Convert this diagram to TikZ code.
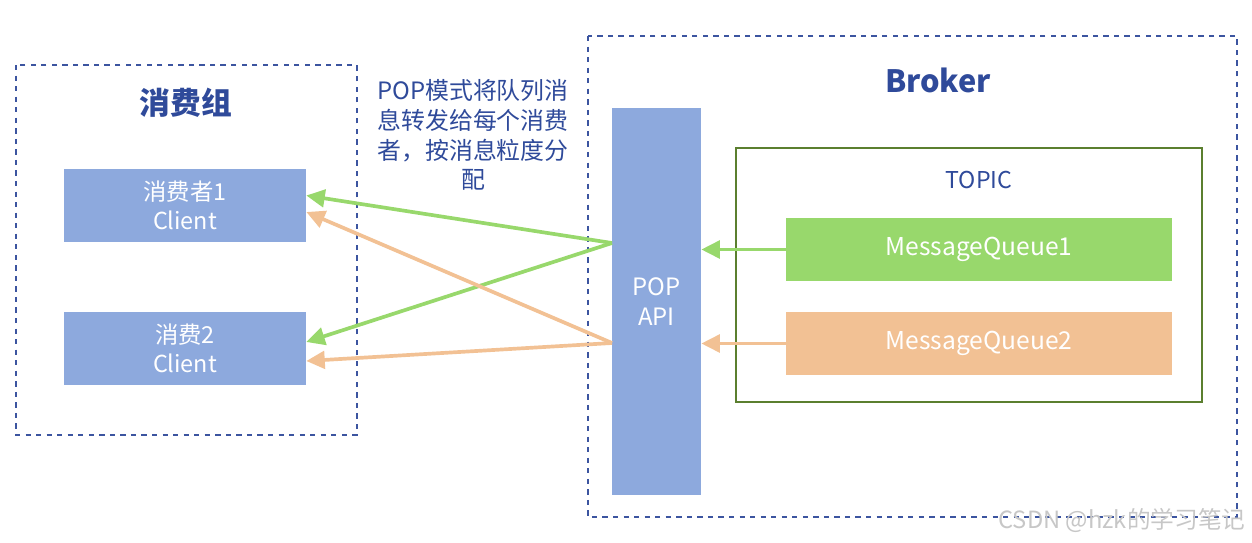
\documentclass[tikz,border=0pt]{standalone}
\usepackage{fontspec}
\setmainfont{Noto Sans CJK SC}
\usetikzlibrary{arrows.meta}

\definecolor{boxblue}{HTML}{8DA9DD}
\definecolor{qgreen}{HTML}{98D86C}
\definecolor{qorange}{HTML}{F2C194}
\definecolor{linkblue}{HTML}{3C55A0}
\definecolor{titleblue}{HTML}{2F4A9A}
\definecolor{topicgreen}{HTML}{5B7F2F}

\tikzset{
  client/.style={fill=boxblue,text=white,inner sep=0pt,minimum width=4.84cm,minimum height=1.46cm,align=center,font=\fontsize{13.3}{16.5}\selectfont},
  queue/.style={inner sep=0pt,minimum width=7.72cm,minimum height=1.26cm,text=white,font=\fontsize{14}{16}\selectfont},
  grp/.style={draw=linkblue,dashed,line width=0.9pt},
  flow/.style={line width=2.1pt,-{Triangle[length=10.5pt,width=10pt]}}
}

\begin{document}
\begin{tikzpicture}[x=0.02cm,y=-0.02cm]

        \useasboundingbox (0,0) rectangle (1252,542);

        % groups
        \draw[grp] (16,65) rectangle (357,435);
        \draw[grp] (588,36) rectangle (1237,517);
        \draw[topicgreen,line width=1.4pt] (736,148) rectangle (1202,402);

        \node[text=titleblue,font=\bfseries\fontsize{17.5}{20}\selectfont] (grpname) at (186,103) {消费组};
        \node[text=titleblue,font=\bfseries\fontsize{17.5}{20}\selectfont] (broker) at (938,80) {Broker};
        \node[text=titleblue,font=\fontsize{13.2}{15}\selectfont] (topic) at (979,180) {TOPIC};
        \node[text=titleblue,align=center,font=\fontsize{13.6}{17}\selectfont] (note) at (473,135)
          {POP模式将队列消\\息转发给每个消费\\者，按消息粒度分\\配};

        % boxes
        \node[client] (c1) at (185,205.5) {消费者1\\Client};
        \node[client] (c2) at (185,348.5) {消费2\\Client};
        \node[client,minimum width=1.78cm,minimum height=7.74cm,font=\fontsize{13.6}{17.5}\selectfont] (pop) at (656.5,301.5) {POP\\API};
        \node[queue,fill=qgreen] (q1) at (979,249.5) {MessageQueue1};
        \node[queue,fill=qorange] (q2) at (979,343.5) {MessageQueue2};

        \coordinate (g0) at (612,243);
        \coordinate (o0) at (612,343);

        % connectors
        \draw[flow,qgreen] (q1.west) -- (q1.west -| pop.east);
        \draw[flow,qorange] (q2.west) -- (q2.west -| pop.east);
        \draw[flow,qgreen] (g0) -- ([yshift=0.2cm]c1.east);
        \draw[flow,qgreen] (g0) -- ([yshift=0.13cm]c2.east);
        \draw[flow,qorange] (o0) -- ([yshift=-0.13cm]c1.east);
        \draw[flow,qorange] (o0) -- ([yshift=-0.25cm]c2.east);

        \node[text=black!22,font=\fontsize{13.5}{16}\selectfont] (mark) at (1122,520) {CSDN @hzk的学习笔记};

      \end{tikzpicture}
\end{document}
